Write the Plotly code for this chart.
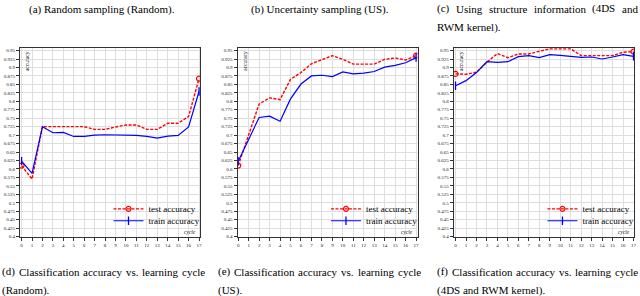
import plotly.graph_objects as go

# ---------------- data ----------------
cycles = list(range(18))
rand_test = [0.61, 0.57, 0.725, 0.725, 0.725, 0.725, 0.725, 0.717, 0.717, 0.724,
             0.73, 0.73, 0.717, 0.717, 0.735, 0.735, 0.755, 0.867]
rand_train = [0.623, 0.587, 0.725, 0.707, 0.708, 0.696, 0.696, 0.70, 0.701, 0.701,
              0.701, 0.699, 0.696, 0.691, 0.697, 0.699, 0.724, 0.829]
us_test = [0.61, 0.70, 0.792, 0.81, 0.805, 0.865, 0.885, 0.911, 0.922, 0.935,
           0.924, 0.91, 0.91, 0.91, 0.924, 0.928, 0.922, 0.935]
us_train = [0.623, 0.69, 0.752, 0.756, 0.741, 0.807, 0.851, 0.875, 0.877, 0.873,
            0.887, 0.881, 0.883, 0.888, 0.901, 0.906, 0.914, 0.929]
str_test = [0.881, 0.88, 0.886, 0.916, 0.941, 0.929, 0.94, 0.94, 0.948, 0.955,
            0.955, 0.955, 0.935, 0.935, 0.935, 0.935, 0.945, 0.947]
str_train = [0.846, 0.861, 0.885, 0.917, 0.915, 0.917, 0.932, 0.935, 0.929, 0.938,
             0.936, 0.933, 0.93, 0.931, 0.925, 0.931, 0.938, 0.933]

ytick_vals = [0.4, 0.425, 0.45, 0.475, 0.5, 0.525, 0.55, 0.575, 0.6, 0.625, 0.65,
              0.675, 0.7, 0.725, 0.75, 0.775, 0.8, 0.825, 0.85, 0.875, 0.9, 0.925, 0.95]
ytick_text = ["0.4", "0.425", "0.45", "0.475", "0.5", "0.525", "0.55", "0.575", "0.6",
              "0.625", "0.65", "0.675", "0.7", "0.725", "0.75", "0.775", "0.8", "0.825",
              "0.85", "0.875", "0.9", "0.925", "0.95"]
xtick_vals = cycles
xtick_text = [str(c) for c in cycles]

series_names = ["test accuracy", "train accuracy"]
top_captions = ["(a) Random sampling (Random).", "(b) Uncertainty sampling (US)."]
top_caption_c = ["(c) Using structure information (4DS and", "RWM kernel)."]
bottom_captions = [
    ["(d) Classification accuracy vs. learning cycle", "(Random)."],
    ["(e) Classification accuracy vs. learning cycle", "(US)."],
    ["(f) Classification accuracy vs. learning cycle", "(4DS and RWM kernel)."],
]

# ---------------- layout helpers ----------------
W, H = 640, 296
SERIF = "Liberation Serif, Times New Roman, serif"
RED = "#ff0000"
BLUE = "#0000ff"
CLEAR = "rgba(0,0,0,0)"

# panel pixel geometry: (left, right, xmin, xmax)
panels = [
    (19.0, 200.0, -0.16, 17.1),
    (237.7, 418.5, -0.06, 17.14),
    (455.0, 636.0, -0.16, 17.05),
]
top_px, bot_px = 48.0, 239.0
ydom = [1 - bot_px / H, 1 - top_px / H]

fig = go.Figure()

data_sets = [(rand_test, rand_train), (us_test, us_train), (str_test, str_train)]

def end_colors(n, c):
    return [c] + [CLEAR] * (n - 2) + [c]

for i, (test, train) in enumerate(data_sets):
    xa = "x" if i == 0 else f"x{i+1}"
    ya = "y" if i == 0 else f"y{i+1}"
    lg_test = f"legend{2*i+2}"
    lg_train = f"legend{2*i+3}"
    fig.add_trace(go.Scatter(
        x=cycles, y=test, xaxis=xa, yaxis=ya, mode="lines+markers",
        name=series_names[0], legend=lg_test,
        line=dict(color=RED, width=1.4, dash="3px,1.5px"),
        marker=dict(symbol="circle-open", size=5,
                    color=end_colors(len(test), RED),
                    line=dict(width=1.2, color=end_colors(len(test), RED))),
    ))
    fig.add_trace(go.Scatter(
        x=cycles, y=train, xaxis=xa, yaxis=ya, mode="lines+markers",
        name=series_names[1], legend=lg_train,
        line=dict(color=BLUE, width=1.2),
        marker=dict(symbol="line-ns-open", size=6,
                    color=end_colors(len(train), BLUE),
                    line=dict(width=1.3, color=end_colors(len(train), BLUE))),
    ))

layout = dict(
    width=W, height=H, margin=dict(l=0, r=0, t=0, b=0),
    paper_bgcolor="white", plot_bgcolor="white",
    font=dict(family=SERIF, color="black"),
    showlegend=True,
)

axis_common = dict(
    showline=True, linecolor="#333333", linewidth=1, mirror=True,
    showgrid=True, gridcolor="#dedede", gridwidth=0.6,
    zeroline=False, ticks="outside", ticklen=3, tickwidth=0.8, tickcolor="#333333",
    tickfont=dict(family=SERIF, size=5, color="#222222"),
)

annotations = []
for i, (l, r, xmin, xmax) in enumerate(panels):
    sx = "" if i == 0 else str(i + 1)
    layout["xaxis" + sx] = dict(
        axis_common, domain=[l / W, r / W], range=[xmin, xmax],
        anchor="y" + sx, tickmode="array", tickvals=xtick_vals, ticktext=xtick_text,
    )
    layout["yaxis" + sx] = dict(
        axis_common, domain=ydom, range=[0.4, 0.959],
        anchor="x" + sx, tickmode="array", tickvals=ytick_vals, ticktext=ytick_text,
    )
    # y label
    annotations.append(dict(
        x=(l + 7.2) / W, y=1 - (top_px + 1.5) / H, xref="paper", yref="paper",
        text="accuracy", textangle=-90, showarrow=False,
        xanchor="center", yanchor="top",
        font=dict(family=SERIF, size=5.5, color="#222222"),
    ))
    # x label
    annotations.append(dict(
        x=(r - 2.5) / W, y=1 - (bot_px - 5) / H, xref="paper", yref="paper",
        text="<i>cycle</i>", showarrow=False, xanchor="right", yanchor="middle",
        font=dict(family=SERIF, size=5.5, color="#222222"),
    ))
    # legends
    text_x = r - 52
    for k, yc in enumerate([211.0, 223.0]):
        key = f"legend{2*i+2+k}"
        layout[key] = dict(
            x=(text_x - 40) / W, y=1 - yc / H, xanchor="left", yanchor="middle",
            bgcolor=CLEAR, borderwidth=0, itemwidth=30,
            font=dict(family=SERIF, size=9, color="black"),
            tracegroupgap=0, visible=True,
        )

# ---------------- captions ----------------
TIMES = {
    " ": 250, "(": 333, ")": 333, ".": 250, "a": 444, "b": 500, "c": 444, "d": 500,
    "e": 444, "f": 333, "g": 500, "h": 500, "i": 278, "k": 500, "l": 278, "m": 778,
    "n": 500, "o": 500, "p": 500, "r": 333, "s": 389, "t": 278, "u": 500, "v": 500,
    "y": 500, "A": 722, "C": 667, "D": 722, "M": 889, "R": 667, "S": 556, "U": 722,
    "W": 944, "4": 500,
}
CAP = 11

def text_width(s, size):
    return sum(TIMES.get(ch, 500) for ch in s) / 1000.0 * size

def cap(x, y, text, anchor="left"):
    annotations.append(dict(
        x=x / W, y=1 - y / H, xref="paper", yref="paper", text=text,
        showarrow=False, xanchor=anchor, yanchor="middle", borderpad=0,
        font=dict(family=SERIF, size=CAP, color="black"),
    ))

def justified(line, x0, x1, y):
    words = line.split(" ")
    widths = [text_width(w, CAP) for w in words]
    gap = (x1 - x0 - sum(widths)) / (len(words) - 1)
    x = x0
    for w, wd in zip(words, widths):
        cap(x, y, w)
        x += wd + gap

cap(101, 10, top_captions[0], "center")
cap(321, 10, top_captions[1], "center")
justified(top_caption_c[0], 437, 639, 9)
cap(437, 28, top_caption_c[1])

cols = [(0.5, 204), (217, 421), (437, 639)]
for (x0, x1), (l1, l2) in zip(cols, bottom_captions):
    justified(l1, x0, x1, 274.5)
    cap(x0, 293, l2)

layout["annotations"] = annotations
fig.update_layout(**layout)
fig.write_html("out.html", config={"displayModeBar": False},
               post_script="document.body.style.margin='0px';document.body.style.padding='0px';")
